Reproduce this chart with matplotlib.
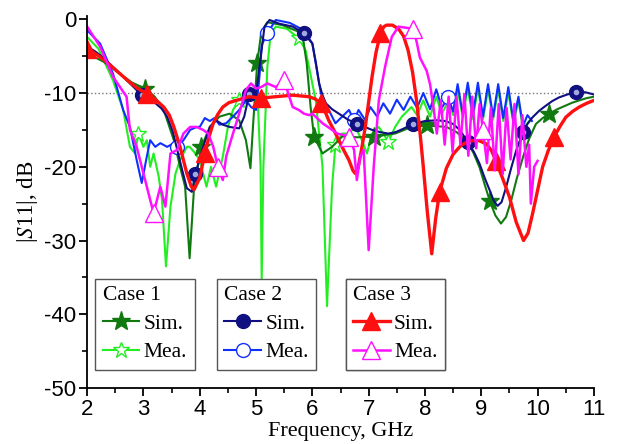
import numpy as np
import matplotlib.pyplot as plt
from matplotlib.ticker import MultipleLocator

plt.rcParams['axes.unicode_minus'] = False
plt.rcParams['mathtext.fontset'] = 'stix'

# ---- Case 1 (Sim. / Mea.) ----
c1_sim_x = [2.0, 2.3, 2.6, 2.8, 3.03, 3.2, 3.36, 3.54, 3.65, 3.74, 3.82, 3.9, 4.03, 4.18, 4.35,
            4.53, 4.7, 4.82, 4.9, 4.95, 5.02, 5.09, 5.2, 5.47, 5.82, 5.9, 5.97, 6.03, 6.18, 6.35,
            6.53, 6.8, 7.09, 7.47, 7.76, 8.03, 8.38, 8.56, 8.74, 8.86, 8.97, 9.06, 9.15, 9.25, 9.35,
            9.44, 9.53, 9.63, 9.74, 9.85, 9.97, 10.09, 10.21, 10.35, 10.5, 10.62, 10.74, 10.87, 11.0]
c1_sim_y = [-4.6, -5.8, -7.5, -8.6, -9.4, -10.5, -12.3, -16.4, -20.0, -22.7, -32.4, -22.7, -17.3, -14.6, -13.2,
            -12.8, -13.7, -16.4, -20.2, -14.0, -6.0, -1.9, -0.4, -0.8, -1.9, -6.0, -12.0, -15.9, -18.2, -17.3,
            -15.9, -16.0, -15.9, -15.5, -14.6, -14.4, -14.6, -15.3, -16.5, -18.1, -20.1, -22.4, -24.6, -26.6, -27.7,
            -26.8, -24.6, -21.6, -18.7, -16.2, -14.2, -13.4, -12.8, -12.2, -11.7, -11.3, -11.0, -10.7, -10.5]
c1_sim_marks = [3.03, 4.03, 5.02, 6.03, 7.09, 8.03, 9.15, 10.21]

c1_mea_x = [2.0, 2.2, 2.46, 2.64, 2.76, 2.85, 2.91, 3.0, 3.06, 3.12, 3.18, 3.27, 3.33, 3.4, 3.48,
            3.57, 3.65, 3.77, 3.82, 3.9, 4.0, 4.12, 4.2, 4.29, 4.41, 4.5, 4.59, 4.7, 4.82, 4.94,
            5.03, 5.08, 5.1, 5.13, 5.2, 5.26, 5.35, 5.55, 5.76, 5.88, 6.06, 6.18, 6.26, 6.35, 6.41,
            6.53, 6.65, 6.76, 6.88, 6.97, 7.06, 7.18, 7.35, 7.47, 7.59, 7.76, 7.86, 7.97, 8.09, 8.2,
            8.3, 8.41, 8.5, 8.58, 8.67, 8.76, 8.85, 8.94, 9.03, 9.12, 9.21, 9.3, 9.39, 9.48, 9.57,
            9.66, 9.74, 9.85]
c1_mea_y = [-2.4, -4.0, -8.3, -12.3, -17.3, -18.2, -15.5, -17.3, -16.4, -20.0, -18.2, -21.3, -24.5, -33.5, -25.4,
            -20.9, -19.1, -17.3, -17.3, -18.0, -19.1, -22.7, -20.0, -22.7, -18.6, -14.6, -12.3, -11.0, -11.4, -9.6,
            -11.0, -20.0, -35.3, -20.0, -6.5, -1.9, -1.0, -1.3, -2.6, -4.2, -11.0, -20.0, -38.9, -22.7, -17.0,
            -15.5, -15.5, -14.6, -16.4, -18.2, -15.5, -14.6, -16.6, -14.6, -13.2, -11.9, -13.0, -11.0, -13.2, -10.5,
            -12.8, -11.2, -13.0, -9.5, -13.3, -9.3, -13.5, -9.3, -13.6, -9.5, -13.6, -9.5, -13.8, -9.9, -14.2,
            -11.0, -14.8, -13.8]
c1_mea_marks = [2.91, 4.7, 5.76, 6.41, 7.35]

# ---- Case 2 (Sim. / Mea.) ----
c2_sim_x = [2.0, 2.15, 2.3, 2.45, 2.6, 2.8, 2.97, 3.1, 3.2, 3.32, 3.42, 3.52, 3.6, 3.69, 3.77,
            3.86, 3.92, 4.06, 4.18, 4.29, 4.41, 4.53, 4.7, 4.79, 4.88, 5.0, 5.06, 5.15, 5.24, 5.41,
            5.65, 5.85, 6.0, 6.06, 6.12, 6.18, 6.24, 6.35, 6.47, 6.63, 6.8, 6.93, 7.06, 7.2, 7.35,
            7.48, 7.6, 7.79, 8.0, 8.21, 8.36, 8.5, 8.63, 8.76, 8.87, 8.97, 9.06, 9.15, 9.22, 9.29,
            9.36, 9.44, 9.53, 9.62, 9.74, 9.82, 9.91, 10.03, 10.15, 10.26, 10.38, 10.53, 10.68, 10.85, 11.0]
c2_sim_y = [-3.7, -4.4, -5.3, -6.4, -7.5, -9.0, -10.3, -10.8, -11.3, -12.1, -13.2, -15.2, -17.7, -20.5, -22.9,
            -23.4, -21.0, -17.3, -14.6, -13.7, -14.3, -14.6, -14.8, -13.2, -10.1, -10.1, -6.5, -1.0, -0.1, -0.6,
            -1.0, -1.9, -3.3, -5.8, -8.7, -10.3, -11.4, -12.2, -12.8, -13.6, -14.2, -14.6, -15.0, -15.3, -15.5,
            -15.3, -14.9, -14.2, -13.8, -13.7, -13.8, -14.2, -15.1, -16.7, -18.0, -19.6, -21.5, -23.2, -24.6, -25.3,
            -24.8, -22.8, -20.2, -17.8, -15.3, -14.2, -13.3, -12.4, -11.7, -11.1, -10.6, -10.2, -9.9, -9.9, -10.2]
c2_sim_marks = [2.97, 3.92, 4.88, 5.85, 6.8, 7.79, 8.76, 9.74, 10.68]

c2_mea_x = [2.0, 2.23, 2.46, 2.64, 2.76, 2.88, 2.97, 3.06, 3.12, 3.21, 3.3, 3.42, 3.54, 3.6, 3.71,
            3.83, 3.95, 4.0, 4.09, 4.18, 4.26, 4.35, 4.47, 4.59, 4.7, 4.82, 4.91, 5.0, 5.06, 5.1,
            5.2, 5.35, 5.6, 5.85, 6.0, 6.15, 6.29, 6.41, 6.53, 6.65, 6.74, 6.82, 6.94, 7.03, 7.15,
            7.26, 7.38, 7.5, 7.62, 7.74, 7.86, 7.97, 8.09, 8.2, 8.3, 8.41, 8.5, 8.58, 8.67, 8.76,
            8.85, 8.94, 9.03, 9.12, 9.21, 9.3, 9.39, 9.48, 9.57, 9.66, 9.74, 9.82, 9.9]
c2_mea_y = [-1.5, -3.3, -7.4, -12.3, -14.6, -19.1, -22.2, -18.6, -16.4, -17.3, -16.8, -17.3, -16.8, -17.3, -16.4,
            -15.0, -14.6, -14.6, -13.4, -13.8, -13.4, -14.3, -14.1, -13.2, -12.3, -11.0, -11.9, -12.3, -7.8, -3.5,
            -1.9, -0.1, -0.5, -1.5, -3.3, -10.0, -12.3, -14.1, -13.2, -12.3, -13.7, -12.3, -13.7, -11.9, -13.2,
            -11.4, -12.8, -10.9, -12.3, -10.5, -12.0, -10.0, -12.2, -9.5, -12.0, -10.6, -12.5, -8.8, -12.8, -8.6,
            -13.0, -8.6, -13.2, -8.8, -13.2, -8.8, -13.4, -9.2, -13.8, -10.5, -14.5, -13.0, -13.8]
c2_mea_marks = [3.6, 5.2, 6.74, 8.41]

# ---- Case 3 (Sim. / Mea.) ----
c3_sim_x = [2.0, 2.15, 2.3, 2.45, 2.6, 2.75, 2.9, 3.06, 3.2, 3.36, 3.46, 3.54, 3.65, 3.77, 3.85,
            3.9, 4.0, 4.09, 4.17, 4.24, 4.32, 4.41, 4.52, 4.65, 4.88, 5.09, 5.35, 5.65, 5.94, 6.05,
            6.15, 6.22, 6.29, 6.38, 6.47, 6.56, 6.65, 6.72, 6.76, 6.81, 6.87, 6.94, 7.0, 7.06, 7.13,
            7.21, 7.27, 7.32, 7.42, 7.53, 7.62, 7.7, 7.78, 7.85, 7.92, 7.97, 8.04, 8.12, 8.19, 8.26,
            8.38, 8.5, 8.64, 8.79, 8.94, 9.09, 9.18, 9.26, 9.38, 9.5, 9.62, 9.75, 9.83, 9.91, 10.0,
            10.09, 10.19, 10.29, 10.4, 10.5, 10.62, 10.74, 10.87, 11.0]
c3_sim_y = [-4.0, -4.7, -5.5, -6.5, -7.5, -8.5, -9.4, -10.1, -10.8, -11.9, -13.0, -14.6, -17.3, -20.9, -22.7,
            -23.1, -21.5, -18.2, -15.8, -14.1, -12.9, -11.9, -11.3, -11.0, -10.5, -10.7, -10.5, -10.3, -10.5, -10.8,
            -11.4, -12.4, -13.7, -15.0, -16.4, -17.8, -19.1, -20.5, -20.9, -20.2, -17.8, -14.6, -11.2, -7.8, -4.5,
            -1.9, -1.0, -0.8, -0.8, -1.3, -2.3, -4.2, -7.2, -11.0, -16.0, -20.0, -26.0, -31.8, -27.0, -23.4,
            -20.2, -18.3, -17.1, -16.5, -16.4, -16.9, -17.8, -19.2, -21.6, -24.1, -27.5, -30.0, -29.0, -26.4, -23.2,
            -20.0, -17.8, -16.0, -14.5, -13.3, -12.5, -11.9, -11.4, -11.0]
c3_sim_marks = [2.0, 3.06, 4.09, 5.09, 6.15, 7.21, 8.26, 9.26, 10.29]

c3_mea_x = [2.0, 2.23, 2.46, 2.7, 2.76, 2.88, 3.0, 3.12, 3.18, 3.3, 3.39, 3.48, 3.6, 3.71, 3.83,
            3.94, 4.06, 4.15, 4.24, 4.32, 4.41, 4.47, 4.59, 4.7, 4.82, 4.91, 5.0, 5.09, 5.2, 5.35,
            5.5, 5.59, 5.65, 5.76, 5.85, 5.94, 6.0, 6.18, 6.35, 6.44, 6.65, 6.74, 6.79, 6.85, 6.91,
            7.0, 7.09, 7.18, 7.29, 7.41, 7.53, 7.79, 7.85, 7.91, 8.03, 8.09, 8.15, 8.21, 8.28, 8.35,
            8.42, 8.49, 8.56, 8.63, 8.7, 8.77, 8.84, 8.91, 8.97, 9.03, 9.1, 9.17, 9.24, 9.31, 9.38,
            9.45, 9.52, 9.59, 9.66, 9.73, 9.8, 9.85, 9.88, 9.94, 10.0]
c3_mea_y = [-1.0, -3.7, -7.8, -10.5, -15.0, -17.3, -20.9, -24.5, -26.3, -22.7, -25.4, -18.2, -17.7, -15.5, -14.6,
            -14.6, -15.0, -15.5, -17.3, -20.0, -21.8, -18.6, -15.5, -12.8, -9.6, -8.7, -9.4, -9.2, -8.7, -9.2,
            -8.3, -10.5, -11.9, -12.3, -12.8, -13.0, -12.8, -14.1, -15.0, -15.5, -15.9, -17.7, -21.8, -18.6, -17.7,
            -31.3, -20.0, -11.0, -6.5, -2.4, -1.0, -1.3, -3.0, -5.2, -7.0, -8.8, -11.9, -15.5, -11.0, -17.0,
            -10.5, -18.0, -10.5, -17.0, -10.2, -18.5, -10.5, -17.5, -11.5, -15.0, -19.5, -12.0, -20.5, -11.5, -21.0,
            -12.0, -19.0, -11.5, -21.0, -13.0, -20.0, -17.0, -25.0, -20.0, -19.2]
c3_mea_marks = [3.18, 4.32, 5.5, 6.65, 7.79, 9.03]


def mark_idx(xs, marks):
    return [int(i) for i in np.where(np.isin(np.round(xs, 3), np.round(marks, 3)))[0]]


fig = plt.figure(figsize=(6.18, 4.44), dpi=100)
ax = fig.add_axes([0.141, 0.126, 0.820, 0.839])

ax.axhline(-10, color='#777777', ls=':', lw=1.0, zorder=1)

l1m, = ax.plot(c1_mea_x, c1_mea_y, color='#22ee22', lw=1.5, marker='*', ms=12,
               mfc='white', mec='#22ee22', markevery=mark_idx(c1_mea_x, c1_mea_marks), label='Mea.')
l1s, = ax.plot(c1_sim_x, c1_sim_y, color='#107a10', lw=1.5, marker='*', ms=14,
               mfc='#107a10', mec='#107a10', markevery=mark_idx(c1_sim_x, c1_sim_marks), label='Sim.')
l2m, = ax.plot(c2_mea_x, c2_mea_y, color='#1030ff', lw=1.5, marker='o', ms=10,
               mfc='white', mec='#1030ff', markevery=mark_idx(c2_mea_x, c2_mea_marks), label='Mea.')
l2s, = ax.plot(c2_sim_x, c2_sim_y, color='#101080', lw=1.5, marker='o', ms=10,
               mfc='#101080', mec='#101080', markevery=mark_idx(c2_sim_x, c2_sim_marks), label='Sim.')
i2 = mark_idx(c2_sim_x, c2_sim_marks)
ax.plot(np.array(c2_sim_x)[i2], np.array(c2_sim_y)[i2], ls='none', marker='o', ms=3,
        color='#a0a8e0')
l3s, = ax.plot(c3_sim_x, c3_sim_y, color='#ff1010', lw=2.4, marker='^', ms=13,
               mfc='#ff1010', mec='#ff1010', markevery=mark_idx(c3_sim_x, c3_sim_marks), label='Sim.')
l3m, = ax.plot(c3_mea_x, c3_mea_y, color='#ff10ff', lw=1.8, marker='^', ms=13,
               mfc='white', mec='#ff10ff', markevery=mark_idx(c3_mea_x, c3_mea_marks), label='Mea.')

ax.set_xlim(2, 11)
ax.set_ylim(-50, 0.5)
ax.xaxis.set_major_locator(MultipleLocator(1))
ax.xaxis.set_minor_locator(MultipleLocator(0.5))
ax.yaxis.set_major_locator(MultipleLocator(10))
ax.yaxis.set_minor_locator(MultipleLocator(5))
ax.spines['top'].set_visible(False)
ax.spines['right'].set_visible(False)
for s in ['left', 'bottom']:
    ax.spines[s].set_linewidth(1.3)
ax.tick_params(which='major', direction='out', length=6, width=1.3, labelsize=16, pad=2)
ax.tick_params(which='minor', direction='out', length=3.5, width=1.2)
for t in ax.get_xticklabels() + ax.get_yticklabels():
    t.set_family('Liberation Sans')

serif = 'Liberation Serif'
ax.set_xlabel('Frequency, GHz', family=serif, fontsize=16, labelpad=1)
ax.set_ylabel(r'|$S$11|, dB', family=serif, fontsize=16.5, labelpad=3)

leg_kw = dict(loc='upper left', frameon=True, fancybox=False, framealpha=1,
              edgecolor='#555555', handlelength=1.7, handletextpad=0.2,
              labelspacing=0.4, borderpad=0.35, borderaxespad=0,
              alignment='left', prop={'family': serif, 'size': 15.5},
              title_fontproperties={'family': serif, 'size': 15.5})
for handles, title, x0 in [([l1s, l1m], 'Case 1', 0.016),
                           ([l2s, l2m], 'Case 2', 0.256),
                           ([l3s, l3m], 'Case 3', 0.510)]:
    lg = ax.legend(handles=handles, title=title, bbox_to_anchor=(x0, 0.294), **leg_kw)
    lg.get_frame().set_linewidth(1.0)
    ax.add_artist(lg)

fig.savefig('out.png', dpi=100)
